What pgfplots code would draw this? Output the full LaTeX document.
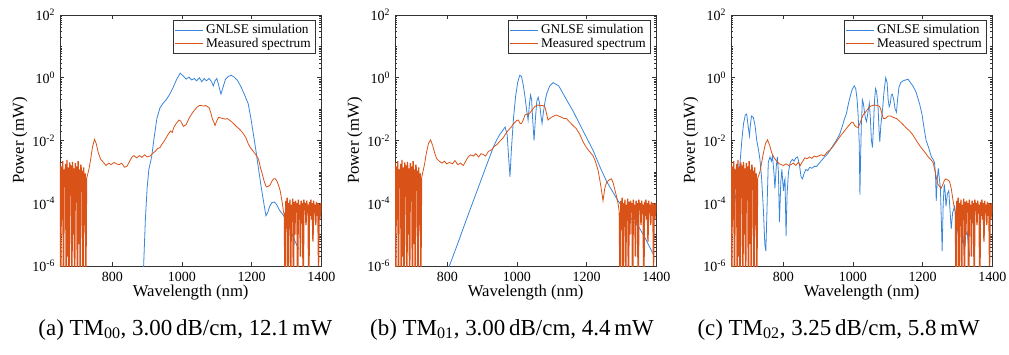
\documentclass[border=0pt]{standalone}
\usepackage{fontspec}
\setmainfont{Liberation Serif}
\usepackage{pgfplots}
\pgfplotsset{compat=1.18}
\usepackage{pgfplotstable}
\definecolor{mblue}{rgb}{0.22,0.52,0.85}
\definecolor{morange}{rgb}{0.85,0.325,0.098}

% shared detector-noise floor of the measured spectrum
\pgfplotstableread{
x y
650 2e-3
652 1e-7
654 1.5e-3
656 3e-5
658 2.2e-3
660 1e-7
662 1.2e-3
664 4e-4
666 1.8e-3
668 1e-7
670 2.4e-3
672 2e-6
674 1.4e-3
676 1e-7
678 2e-3
680 6e-4
682 1.6e-3
684 1e-7
686 2.1e-3
688 1e-5
690 1.3e-3
692 1e-7
694 1.9e-3
696 3e-4
698 1.5e-3
700 1e-7
702 2.2e-3
704 5e-6
706 1.2e-3
708 1e-7
710 1.7e-3
712 8e-4
714 1.1e-3
716 1e-7
718 1.4e-3
720 2e-5
722 9e-4
724 1e-7
726 6e-4
}\noiseL
\pgfplotstableread{
x y
1294 5e-5
1296 1e-7
1298 1.2e-4
1300 3e-5
1302 1.5e-4
1304 1e-7
1306 1e-4
1308 2e-5
1310 1.3e-4
1312 1e-7
1314 9e-5
1316 4e-5
1318 1.4e-4
1320 1e-7
1322 1.1e-4
1324 1e-5
1326 1.2e-4
1328 5e-5
1330 1e-4
1332 1e-7
1334 1.3e-4
1336 3e-5
1338 9e-5
1340 2e-6
1342 1.2e-4
1344 4e-5
1346 1e-4
1348 1e-7
1350 1.3e-4
1352 6e-5
1354 1e-4
1356 2e-5
1358 1.2e-4
1360 5e-5
1362 9e-5
1364 1e-7
1366 1.1e-4
1368 4e-5
1370 1.3e-4
1372 3e-5
1374 1e-4
1376 6e-6
1378 1.2e-4
1380 5e-5
1382 9e-5
1384 2e-5
1386 1.1e-4
1388 4e-5
1390 1e-4
1392 1e-6
1394 9e-5
1396 3e-5
1398 1e-4
1400 5e-5
}\noiseR

% ---------- panel (a) ----------
\pgfplotstableread{
x y
885 1e-7
890 1e-6
895 3e-5
900 3e-4
905 1.2e-3
913 3e-3
920 1.2e-2
928 5e-2
937 0.11
945 0.15
955 0.2
965 0.3
975 0.5
985 0.9
995 1.4
1005 1.1
1012 0.9
1020 1.05
1028 0.85
1035 0.95
1042 0.8
1050 1.0
1057 0.75
1064 0.95
1070 0.8
1078 0.95
1085 0.75
1090 0.55
1095 0.8
1100 0.95
1105 0.6
1112 0.3
1118 0.5
1125 0.9
1133 1.1
1141 1.2
1150 1.05
1160 0.8
1170 0.5
1180 0.28
1190 0.15
1198 0.05
1205 1.6e-2
1212 5e-3
1220 1.2e-3
1228 3e-4
1235 1e-4
1241 4e-5
1246 5e-5
1252 8e-5
1258 1.05e-4
1265 1.1e-4
1272 9e-5
1280 6e-5
1292 4e-5
1310 1.5e-5
1325 6e-6
1335 3.5e-6
}\simA
\pgfplotstableread{
x y
726 6e-4
729 8e-4
733 1.2e-3
738 2.5e-3
743 6e-3
749 1.1e-2
754 8e-3
760 4e-3
767 2.5e-3
775 2e-3
782 1.6e-3
790 1.9e-3
797 1.7e-3
805 2e-3
812 1.8e-3
820 1.7e-3
827 1.9e-3
835 1.4e-3
842 1.5e-3
850 2.2e-3
857 3e-3
862 3.3e-3
870 2.8e-3
878 3.3e-3
885 2.9e-3
893 3.5e-3
900 3e-3
909 3.2e-3
915 3.8e-3
923 4.5e-3
930 5.5e-3
937 6e-3
944 8e-3
950 1e-2
956 1.3e-2
961 1.6e-2
967 2e-2
972 1.8e-2
976 2.5e-2
982 3.3e-2
988 4e-2
992 4.5e-2
996 4.2e-2
1000 3.5e-2
1004 2.8e-2
1008 3e-2
1012 3.2e-2
1016 4e-2
1022 5.5e-2
1028 7e-2
1035 9e-2
1043 0.115
1050 0.13
1056 0.13
1062 0.125
1068 0.13
1073 0.12
1078 0.11
1083 0.075
1087 0.05
1091 0.04
1095 0.03
1099 0.04
1105 0.055
1112 0.052
1118 0.05
1124 0.048
1130 0.05
1136 0.045
1142 0.04
1150 0.033
1158 0.027
1165 0.023
1172 0.019
1177 0.016
1184 0.012
1190 8e-3
1196 6e-3
1202 5e-3
1208 4e-3
1214 3.3e-3
1220 2.5e-3
1225 1.4e-3
1230 9e-4
1236 5e-4
1242 3.3e-4
1248 3.5e-4
1253 3.8e-4
1258 5e-4
1263 6e-4
1268 6e-4
1273 5e-4
1278 3.5e-4
1282 2.5e-4
1287 1.2e-4
1292 5e-5
1294 5e-5
}\measA

% ---------- panel (b) ----------
\pgfplotstableread{
x y
800 6e-7
806 1e-6
830 5.2e-6
860 4.3e-5
890 3.4e-4
915 1.9e-3
932 6e-3
941 1e-2
950 1.5e-2
958 2e-2
966 2.7e-2
972 1.5e-2
976 3e-3
980 7e-4
984 5e-3
990 5e-2
996 0.25
1002 0.7
1008 1.2
1013 1.1
1018 0.6
1023 0.25
1028 0.09
1032 0.045
1036 0.15
1039 0.28
1042 0.2
1045 0.05
1049 0.01
1053 0.05
1057 0.18
1061 0.24
1065 0.15
1069 0.06
1072 0.035
1076 0.08
1080 0.16
1085 0.3
1094 0.55
1104 0.7
1120 0.55
1140 0.22
1161 0.087
1190 0.02
1218 5e-3
1240 1.3e-3
1257 5e-4
1275 2.3e-4
1290 1.2e-4
1310 6e-5
1330 3e-5
1352 1.6e-5
1370 7e-6
1381 4e-6
1390 2.5e-6
}\simB
\pgfplotstableread{
x y
726 6e-4
730 1e-3
735 1.8e-3
740 4e-3
746 8e-3
752 1.05e-2
758 7e-3
764 4e-3
769 2.7e-3
777 2.2e-3
785 1.9e-3
792 2.2e-3
798 1.8e-3
806 2e-3
815 1.8e-3
822 2.3e-3
830 1.7e-3
838 1.9e-3
846 1.6e-3
853 2.2e-3
860 3e-3
867 3.5e-3
875 3.2e-3
882 3.8e-3
890 3e-3
897 3.8e-3
903 3.6e-3
910 3.2e-3
918 4.5e-3
927 5e-3
935 6.5e-3
943 7.5e-3
951 9.5e-3
960 1.2e-2
970 1.8e-2
978 2.3e-2
985 2.8e-2
989 3.3e-2
994 3.8e-2
999 4.3e-2
1004 4.5e-2
1009 3.5e-2
1013 3.5e-2
1018 4.5e-2
1023 6.5e-2
1030 7e-2
1037 7.5e-2
1044 9.5e-2
1051 0.12
1056 0.13
1061 0.135
1068 0.13
1074 0.13
1080 0.12
1084 0.08
1089 0.045
1094 0.05
1099 0.055
1106 0.06
1113 0.065
1120 0.06
1128 0.055
1135 0.05
1142 0.05
1150 0.04
1161 0.03
1170 0.024
1180 0.016
1190 9e-3
1199 6e-3
1208 4.5e-3
1218 3.3e-3
1225 2.2e-3
1233 1.1e-3
1240 4e-4
1247 1.2e-4
1252 3e-4
1257 4.5e-4
1264 5.5e-4
1271 6e-4
1276 4.5e-4
1280 3e-4
1285 1.8e-4
1290 1e-4
1294 5e-5
}\measB

% ---------- panel (c) ----------
\pgfplotstableread{
x y
660 1e-4
670 5e-4
676 2e-3
681 1e-2
686 3.5e-2
691 6.5e-2
695 7e-2
699 3e-2
703 1.4e-2
706 3.5e-2
709 6e-2
714 5.5e-2
719 3e-2
724 1e-2
729 5e-3
733 2.5e-3
738 6e-4
743 6e-5
747 5e-6
750 3e-6
753 5e-5
757 2e-3
762 3e-3
766 2.2e-3
769 3.2e-3
773 1e-3
776 3e-4
780 1.5e-3
783 3e-3
786 1e-3
789 2.5e-5
793 5e-4
796 1.2e-3
799 4e-4
801 2.5e-4
803 5e-4
805 6e-4
808 9e-6
811 2e-4
815 1e-3
820 2e-3
826 2.5e-3
831 2.2e-3
836 2.8e-3
841 3e-3
846 1.8e-3
851 7e-4
855 6e-4
860 9e-4
865 1.2e-3
870 1.1e-3
876 1.4e-3
882 1.3e-3
889 1.5e-3
896 1.5e-3
905 2e-3
915 2.7e-3
925 3.5e-3
935 5e-3
943 7e-3
952 1e-2
962 1.6e-2
970 3e-2
976 5e-2
981 7e-2
987 0.15
992 0.25
997 0.4
1001 0.5
1004 0.55
1008 0.45
1012 0.2
1015 0.06
1018 8e-3
1020 1.9e-4
1022 3e-3
1024 0.03
1027 0.2
1030 0.15
1033 0.08
1036 0.05
1039 0.04
1043 0.08
1047 0.15
1050 0.05
1053 0.01
1056 6e-3
1059 0.03
1062 0.2
1065 0.45
1068 0.35
1072 0.12
1075 0.02
1077 9e-3
1080 0.03
1085 0.1
1089 0.35
1094 1.0
1098 0.7
1101 0.2
1104 0.12
1107 0.15
1110 0.28
1113 0.3
1117 0.2
1121 0.1
1125 0.08
1128 0.2
1132 0.5
1137 0.7
1144 0.8
1151 0.85
1158 0.9
1165 0.7
1172 0.55
1181 0.35
1191 0.15
1198 0.07
1204 0.025
1210 0.01
1217 6e-3
1225 3e-3
1230 2.5e-3
1234 2e-3
1237 8e-4
1239 1.2e-4
1242 6e-4
1245 1.3e-3
1248 6e-4
1251 3e-4
1254 2e-5
1256 3e-6
1259 1e-4
1262 4e-4
1265 2e-4
1267 8e-5
1271 2e-4
1275 2.5e-4
1279 5e-5
1282 1.5e-5
1286 5e-5
1292 8e-5
1296 3e-5
1301 1.2e-5
1306 3e-5
1311 2.5e-5
1316 8e-6
1320 3e-6
1324 1e-5
1328 1.2e-5
1332 4e-6
1335 2e-6
}\simC
\pgfplotstableread{
x y
726 6e-4
730 8e-4
733 1e-3
738 2e-3
743 4e-3
749 8e-3
755 1.05e-2
761 7e-3
767 4e-3
774 2.8e-3
781 2.2e-3
789 1.8e-3
800 1.6e-3
808 1.8e-3
815 1.6e-3
822 1.7e-3
829 1.9e-3
836 1.6e-3
843 2e-3
849 1.6e-3
856 2.2e-3
862 2.8e-3
868 2.6e-3
875 3e-3
882 2.7e-3
889 3.2e-3
896 3e-3
903 3.3e-3
910 3.5e-3
917 3.2e-3
925 4.2e-3
934 5e-3
943 6.5e-3
952 9e-3
962 1.3e-2
972 1.8e-2
981 2.4e-2
990 3.2e-2
996 3.8e-2
1000 3.8e-2
1005 3e-2
1010 2.7e-2
1015 2.6e-2
1020 3.5e-2
1025 5e-2
1029 6.5e-2
1036 8e-2
1042 0.1
1048 0.12
1055 0.13
1063 0.135
1070 0.13
1077 0.12
1082 0.08
1087 0.05
1092 0.05
1097 0.055
1101 0.06
1108 0.06
1115 0.055
1125 0.05
1135 0.04
1144 0.032
1153 0.025
1163 0.02
1172 0.015
1182 0.01
1191 7e-3
1201 5e-3
1208 4e-3
1216 3e-3
1223 2.5e-3
1230 2e-3
1236 1e-3
1240 6e-4
1244 4e-4
1248 3.5e-4
1253 3e-4
1258 4e-4
1263 5.5e-4
1267 6e-4
1272 5.5e-4
1277 5e-4
1282 3e-4
1286 1.5e-4
1290 8e-5
1294 5e-5
}\measC

\pgfplotsset{
  specax/.style={
    scale only axis, width=196pt, height=188.25pt,
    xmin=650, xmax=1400, ymin=1e-6, ymax=1e2,
    xtick={800,1000,1200,1400},
    ytick={1e-6,1e-4,1e-2,1,1e2},
    yticklabels={10\textsuperscript{-6},10\textsuperscript{-4},10\textsuperscript{-2},10\textsuperscript{0},10\textsuperscript{2}},
    minor ytick={2e-6,3e-6,4e-6,5e-6,6e-6,7e-6,8e-6,9e-6,1e-5,2e-5,3e-5,4e-5,5e-5,6e-5,7e-5,8e-5,9e-5,
                 2e-4,3e-4,4e-4,5e-4,6e-4,7e-4,8e-4,9e-4,1e-3,2e-3,3e-3,4e-3,5e-3,6e-3,7e-3,8e-3,9e-3,
                 2e-2,3e-2,4e-2,5e-2,6e-2,7e-2,8e-2,9e-2,0.1,0.2,0.3,0.4,0.5,0.6,0.7,0.8,0.9,
                 2,3,4,5,6,7,8,9,10,20,30,40,50,60,70,80,90},
    tick align=inside,
    axis line style={black!80, line width=0.5pt},
    tick style={black!80, line width=0.4pt},
    major tick length=3pt, minor tick length=1.6pt,
    xticklabel style={/pgf/number format/assume math mode=true, /pgf/number format/1000 sep={}, yshift=-1pt},
    tick label style={font=\fontsize{10.5}{12}\selectfont},
    label style={font=\fontsize{12.5}{14}\selectfont},
    xlabel={Wavelength (nm)}, ylabel={Power (mW)},
    xlabel style={yshift=4pt},
    ylabel style={yshift=-3pt},
    legend style={at={(0.977,0.98)}, anchor=north east, draw=black!80,
                  font=\fontsize{10}{11}\selectfont, inner sep=1.2pt, row sep=-2.5pt},
    legend cell align=left,
    legend image code/.code={\draw[##1] (0pt,0pt) -- (21pt,0pt);},
  }
}

\begin{document}
\begin{tikzpicture}
\useasboundingbox (-45pt,-66pt) rectangle (711.75pt,199.5pt);

\begin{axis}[ymode=log, specax, at={(0pt,0pt)}, anchor=south west]
\addplot[mblue, line width=0.6pt] table[x=x,y=y] {\simA};
\addplot[morange, line width=0.6pt] table[x=x,y=y] {\measA};
\addplot[morange, line width=1pt, forget plot] table[x=x,y=y] {\noiseL};
\addplot[morange, line width=1pt, forget plot] table[x=x,y=y] {\noiseR};
\legend{GNLSE simulation, Measured spectrum}
\end{axis}

\begin{axis}[ymode=log, specax, at={(251.25pt,0pt)}, anchor=south west]
\addplot[mblue, line width=0.6pt] table[x=x,y=y] {\simB};
\addplot[morange, line width=0.6pt] table[x=x,y=y] {\measB};
\addplot[morange, line width=1pt, forget plot] table[x=x,y=y] {\noiseL};
\addplot[morange, line width=1pt, forget plot] table[x=x,y=y] {\noiseR};
\legend{GNLSE simulation, Measured spectrum}
\end{axis}

\begin{axis}[ymode=log, specax, at={(503.25pt,0pt)}, anchor=south west]
\addplot[mblue, line width=0.6pt] table[x=x,y=y] {\simC};
\addplot[morange, line width=0.6pt] table[x=x,y=y] {\measC};
\addplot[morange, line width=1pt, forget plot] table[x=x,y=y] {\noiseL};
\addplot[morange, line width=1pt, forget plot] table[x=x,y=y] {\noiseR};
\legend{GNLSE simulation, Measured spectrum}
\end{axis}

\node[font=\fontsize{17.2}{19}\selectfont] at (94pt,-48pt) {(a) TM\textsubscript{00}, 3.00\,dB/cm, 12.1\,mW};
\node[font=\fontsize{17.2}{19}\selectfont] at (339pt,-48pt) {(b) TM\textsubscript{01}, 3.00\,dB/cm, 4.4\,mW};
\node[font=\fontsize{17.2}{19}\selectfont] at (584pt,-48pt) {(c) TM\textsubscript{02}, 3.25\,dB/cm, 5.8\,mW};
\end{tikzpicture}
\end{document}
